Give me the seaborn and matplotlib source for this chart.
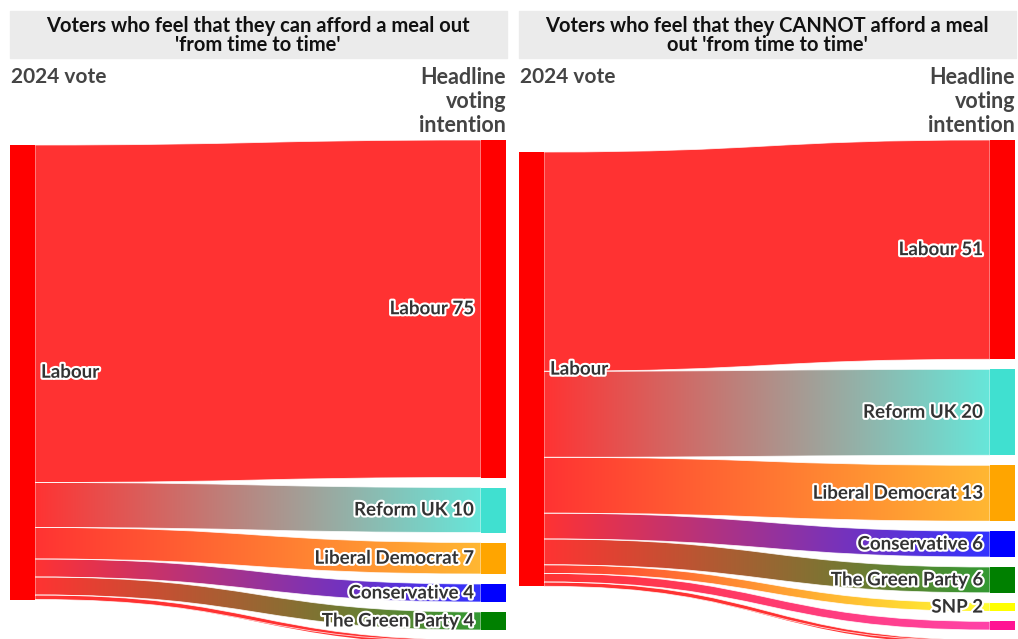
import numpy as np
import matplotlib
matplotlib.use('Agg')
import matplotlib.pyplot as plt
import matplotlib.patheffects as pe
from matplotlib.path import Path
from matplotlib.patches import PathPatch, Rectangle
from matplotlib.colors import to_rgb
import seaborn as sns

sns.set_theme(style='white')
plt.rcParams['font.family'] = ['Lato', 'DejaVu Sans']

# Data: flows from 2024 Labour voters to current voting intention
left_title = "Voters who feel that they can afford a meal out\n'from time to time'"
left_targets = ['Labour', 'Reform UK', 'Liberal Democrat', 'Conservative', 'The Green Party', 'Other']
left_values = [75, 10, 7, 4, 4, 1]

right_title = "Voters who feel that they CANNOT afford a meal\nout 'from time to time'"
right_targets = ['Labour', 'Reform UK', 'Liberal Democrat', 'Conservative', 'The Green Party',
                 'SNP', 'Independent', 'Other']
right_values = [51, 20, 13, 6, 6, 2, 2, 1]

unlabelled = ['Independent', 'Other']
source_name = 'Labour'

party_colors = {
    'Labour': '#ff0000',
    'Reform UK': '#40e0d0',
    'Liberal Democrat': '#ffa500',
    'Conservative': '#0000ff',
    'The Green Party': '#008000',
    'SNP': '#ffff00',
    'Independent': '#ff1493',
    'Other': '#ff0000',
}

W, H = 1018, 639
fig = plt.figure(figsize=(W / 100, H / 100), dpi=100)
halo = [pe.withStroke(linewidth=3, foreground='white')]
TEXT = '#333333'


def light(c, a=0.8):
    r = np.array(to_rgb(c))
    return tuple(r * a + (1 - a))


def draw_panel(x_px, title, targets, values, scale, src_offset_px):
    width_px = 496
    # header box and titles
    fig.patches.append(Rectangle((x_px / W, 1 - 58 / H), 497 / W, 47 / H,
                                 transform=fig.transFigure, color='#ebebeb', zorder=0))
    fig.text((x_px + width_px / 2) / W, 1 - 35.5 / H, title, ha='center', va='center',
             fontsize=14.5, fontweight='bold', color='#111111', linespacing=0.98)
    fig.text((x_px + 1) / W, 1 - 77 / H, '2024 vote', ha='left', va='center',
             fontsize=15, fontweight='bold', color='#444444')
    fig.text((x_px + width_px) / W, 1 - 67 / H, 'Headline\nvoting\nintention', ha='right',
             va='top', multialignment='right', fontsize=15.5, fontweight='bold',
             color='#444444', linespacing=1.18)

    ax = fig.add_axes([x_px / W, 0, width_px / W, 499 / H])
    ax.set_axis_off()
    ymax = 499 / scale
    gap = 10 / scale
    nw = 25 / width_px
    x0, x1 = nw, 1 - nw
    xm = (x0 + x1) / 2

    src_top = src_offset_px / scale
    total = sum(values)
    src_col = party_colors[source_name]

    s_cum = src_top
    t_cum = 0.0
    for name, v in zip(targets, values):
        sy0, sy1 = s_cum, s_cum + v
        ty0, ty1 = t_cum, t_cum + v
        verts = [(x0, sy0), (xm, sy0), (xm, ty0), (x1, ty0),
                 (x1, ty1), (xm, ty1), (xm, sy1), (x0, sy1), (x0, sy0)]
        codes = [Path.MOVETO, Path.CURVE4, Path.CURVE4, Path.CURVE4,
                 Path.LINETO, Path.CURVE4, Path.CURVE4, Path.CURVE4, Path.CLOSEPOLY]
        patch = PathPatch(Path(verts, codes), facecolor='none', edgecolor='white',
                          lw=0.6, alpha=0.8, zorder=3)
        ax.add_patch(patch)
        cmap = sns.blend_palette([light(src_col), light(party_colors[name])], as_cmap=True)
        grad = np.linspace(0, 1, 256).reshape(1, -1)
        im = ax.imshow(grad, cmap=cmap, extent=[x0, x1, max(sy1, ty1), min(sy0, ty0)],
                       aspect='auto', zorder=2, interpolation='bilinear')
        im.set_clip_path(patch)

        # target node
        ax.add_patch(Rectangle((x1, ty0), nw, v, color=party_colors[name], lw=0, zorder=4))
        if name not in unlabelled:
            ax.text(x1 - 7 / width_px, (ty0 + ty1) / 2, f'{name} {v}', ha='right', va='center',
                    fontsize=13.5, fontweight='bold', color=TEXT, path_effects=halo, zorder=5)
        s_cum += v
        t_cum += v + gap

    # source node
    ax.add_patch(Rectangle((0, src_top), nw, total, color=src_col, lw=0, zorder=4))
    ax.text(nw + 6 / width_px, src_top + total / 2, source_name, ha='left', va='center',
            fontsize=13.5, fontweight='bold', color=TEXT, path_effects=halo, zorder=5)

    ax.set_xlim(0, 1)
    ax.set_ylim(ymax, 0)


draw_panel(10, left_title, left_targets, left_values, scale=4.5, src_offset_px=5)
draw_panel(519, right_title, right_targets, right_values, scale=4.3, src_offset_px=12)

fig.savefig('out.png', dpi=100)
